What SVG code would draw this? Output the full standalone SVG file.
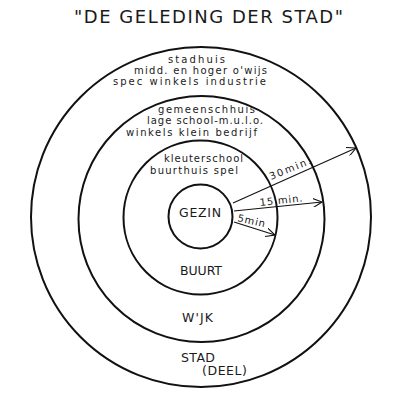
<svg xmlns="http://www.w3.org/2000/svg" width="405" height="405" viewBox="0 0 405 405">
<style>
  .ring { fill: none; stroke: #111; stroke-width: 2; }
  .lbl { font-family: "DejaVu Sans", "Liberation Sans", sans-serif; font-size: 10px; fill: #1a1a1a; }
  .cap { font-family: "DejaVu Sans", "Liberation Sans", sans-serif; font-size: 12.5px; fill: #1a1a1a; }
  .title { font-family: "DejaVu Sans", "Liberation Sans", sans-serif; font-size: 18px; fill: #1a1a1a; }
  .arrow { fill: none; stroke: #111; stroke-width: 1.1; marker-end: url(#head); }
</style>
<defs>
  <marker id="head" viewBox="0 0 10 10" refX="10" refY="5" markerWidth="9" markerHeight="9" markerUnits="userSpaceOnUse" orient="auto">
    <path d="M0,0 L10,5 L0,10" fill="none" stroke="#111" stroke-width="1.2"/>
  </marker>
</defs>
<rect width="405" height="405" fill="#fff"/>
<text id="title" class="title" x="74" y="23" textLength="269" lengthAdjust="spacing">"DE GELEDING DER STAD"</text>

<g id="stad">
  <circle class="ring" cx="201" cy="217" r="170"/>
  <text class="lbl" x="168" y="63" textLength="57" lengthAdjust="spacing">stadhuis</text>
  <text class="lbl" x="134" y="74" textLength="133" lengthAdjust="spacing">midd. en hoger o'wijs</text>
  <text class="lbl" x="113" y="85" textLength="153" lengthAdjust="spacing">spec winkels  industrie</text>
  <text class="cap" x="181" y="362" textLength="34" lengthAdjust="spacing">STAD</text>
  <text class="cap" x="202" y="375" textLength="45" lengthAdjust="spacing">(DEEL)</text>
</g>
<g id="wijk">
  <circle class="ring" cx="201.5" cy="219" r="123"/>
  <text class="lbl" x="158" y="113" textLength="97" lengthAdjust="spacing">gemeenschhuis</text>
  <text class="lbl" x="147" y="124" textLength="116" lengthAdjust="spacing">lage school-m.u.l.o.</text>
  <text class="lbl" x="126" y="136" textLength="131" lengthAdjust="spacing">winkels  klein bedrijf</text>
  <text class="cap" x="182" y="322" textLength="31" lengthAdjust="spacing">W'JK</text>
</g>
<g id="buurt">
  <circle class="ring" cx="200.5" cy="217.5" r="77"/>
  <text class="lbl" x="164" y="162" textLength="79" lengthAdjust="spacing">kleuterschool</text>
  <text class="lbl" x="150" y="174" textLength="88" lengthAdjust="spacing">buurthuis spel</text>
  <text class="cap" x="180" y="275" textLength="42" lengthAdjust="spacing">BUURT</text>
</g>
<g id="gezin">
  <circle class="ring" cx="200.5" cy="216.5" r="32"/>
  <text class="cap" x="179" y="217" textLength="42" lengthAdjust="spacing">GEZIN</text>
</g>

<g id="connectors">
  <line class="arrow" x1="233" y1="203" x2="356" y2="148"/>
  <line class="arrow" x1="234" y1="211" x2="322" y2="202"/>
  <line class="arrow" x1="234" y1="222" x2="275" y2="235"/>
  <text class="lbl" transform="translate(271,180) rotate(-22)" textLength="44" lengthAdjust="spacing">30min.</text>
  <text class="lbl" transform="translate(260,206) rotate(-6)" textLength="43" lengthAdjust="spacing">15 min.</text>
  <text class="lbl" transform="translate(237,221) rotate(13)" textLength="28" lengthAdjust="spacing">5min</text>
</g>
</svg>
